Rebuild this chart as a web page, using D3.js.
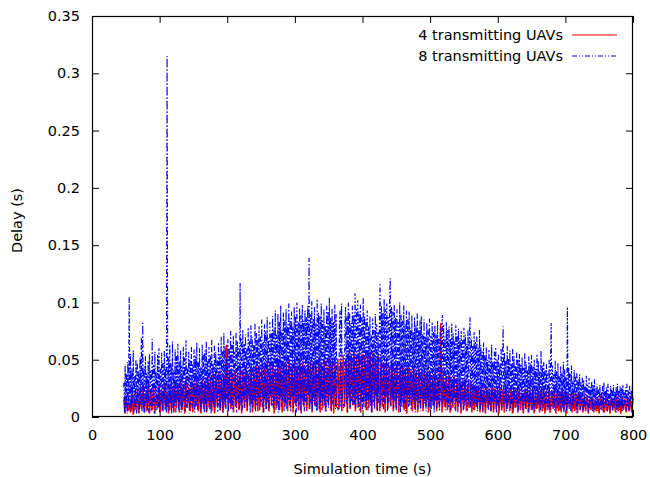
<!DOCTYPE html>
<html><head><meta charset="utf-8">
<script src="https://cdn.jsdelivr.net/npm/d3@7"></script>
<style>body{margin:0;background:#fff}</style>
</head><body><svg id="c" width="650" height="477"></svg>
<script>
const xTicks=[0,100,200,300,400,500,600,700,800];
const yTicks=[0,0.05,0.1,0.15,0.2,0.25,0.3,0.35];
const yTickLabels=["0","0.05","0.1","0.15","0.2","0.25","0.3","0.35"];
const seriesNames=["4 transmitting UAVs","8 transmitting UAVs"];
const xTitle="Simulation time (s)", yTitle="Delay (s)";
const tStart=47, tEnd=800;
// 4 transmitting UAVs: delay (s), samples evenly spaced from tStart to tEnd
const delay4=[
.015,.003,.018,.005,.012,.004,.020,.002,.016,.006,.024,.003,.019,.007,.026,.004,.021,.005,.028,.003,
.023,.006,.027,.003,.020,.008,.029,.004,.024,.005,.030,.007,.022,.003,.028,.006,.025,.004,.031,.008,
.027,.004,.033,.006,.029,.003,.035,.008,.026,.005,.032,.004,.030,.009,.034,.005,.028,.003,.033,.007,
.031,.004,.036,.008,.033,.005,.038,.003,.035,.009,.040,.006,.034,.004,.037,.008,.063,.005,.039,.007,
.036,.004,.041,.009,.038,.006,.043,.003,.040,.008,.044,.005,.037,.010,.042,.004,.039,.007,.044,.005,
.041,.009,.046,.004,.043,.007,.049,.005,.045,.010,.047,.003,.042,.008,.050,.006,.044,.004,.048,.009,
.046,.005,.050,.008,.043,.004,.048,.010,.045,.006,.051,.003,.047,.009,.044,.005,.049,.007,.046,.004,
.048,.010,.045,.006,.051,.004,.047,.008,.050,.005,.044,.011,.052,.006,.049,.003,.046,.008,.051,.007,
.049,.005,.054,.009,.051,.004,.056,.007,.053,.010,.057,.005,.052,.008,.058,.004,.055,.009,.053,.006,
.057,.008,.054,.004,.058,.010,.052,.006,.055,.005,.049,.009,.046,.004,.048,.007,.044,.010,.047,.005,
.043,.008,.046,.004,.042,.009,.045,.006,.041,.003,.044,.010,.040,.005,.043,.007,.039,.004,.042,.008,
.038,.005,.041,.009,.037,.004,.040,.007,.036,.010,.039,.005,.035,.008,.082,.004,.038,.009,.034,.006,
.036,.004,.033,.008,.035,.005,.031,.009,.034,.003,.030,.007,.033,.005,.029,.008,.032,.004,.028,.006,
.027,.009,.025,.004,.028,.006,.024,.003,.026,.008,.023,.005,.027,.004,.025,.007,.022,.003,.026,.006,
.024,.004,.027,.007,.023,.005,.026,.003,.025,.008,.022,.004,.026,.006,.021,.003,.024,.007,.025,.004,
.022,.006,.025,.003,.020,.007,.024,.004,.023,.005,.026,.003,.021,.006,.024,.004,.022,.007,.025,.003,
.023,.005,.020,.004,.024,.006,.021,.003,.022,.007,.019,.004,.023,.005,.020,.003,.022,.006,.018,.004,
.017,.005,.019,.003,.016,.006,.018,.004,.015,.005,.017,.003,.019,.006,.016,.004,.018,.005,.015,.003,
.017,.006,.016,.004,.018,.005,.015,.003,.017,.006,.016,.004,.018,.005,.015,.004,.017];
// 8 transmitting UAVs: delay (s), samples evenly spaced from tStart to tEnd
const delay8=[
.030,.004,.045,.008,.038,.003,.048,.010,.105,.006,.055,.005,.042,.012,.058,.004,.036,.009,.050,.003,
.047,.007,.040,.004,.052,.011,.070,.005,.082,.008,.044,.003,.053,.012,.038,.006,.049,.004,.055,.010,
.041,.005,.068,.009,.046,.003,.057,.012,.039,.006,.054,.008,.060,.004,.043,.011,.056,.005,.048,.013,
.058,.006,.044,.004,.315,.009,.052,.005,.063,.012,.047,.003,.066,.008,.041,.010,.059,.004,.053,.015,
.064,.006,.049,.011,.058,.004,.045,.009,.061,.014,.052,.005,.067,.008,.043,.012,.057,.003,.050,.010,
.062,.007,.046,.013,.059,.004,.053,.010,.065,.006,.048,.015,.060,.005,.044,.009,.063,.012,.055,.004,
.058,.011,.066,.005,.049,.014,.061,.007,.054,.003,.068,.012,.047,.009,.063,.006,.057,.016,.050,.004,
.065,.010,.055,.006,.070,.013,.058,.004,.073,.011,.062,.007,.052,.015,.068,.005,.060,.012,.075,.008,
.063,.006,.071,.014,.057,.009,.074,.004,.066,.012,.061,.007,.117,.010,.069,.005,.076,.015,.064,.008,
.072,.012,.060,.006,.078,.016,.067,.004,.080,.011,.070,.008,.063,.014,.082,.005,.074,.010,.068,.017,
.079,.006,.071,.013,.085,.009,.066,.004,.081,.015,.075,.007,.087,.012,.069,.005,.083,.018,.073,.010,
.088,.008,.078,.014,.093,.006,.072,.011,.090,.004,.083,.016,.097,.009,.076,.013,.091,.005,.085,.012,
.094,.007,.081,.015,.099,.010,.086,.005,.092,.018,.079,.008,.096,.012,.088,.004,.100,.014,.083,.009,
.095,.006,.089,.016,.098,.011,.084,.005,.093,.013,.087,.008,.097,.019,.139,.007,.090,.012,.101,.006,
.086,.014,.096,.009,.082,.005,.103,.017,.091,.007,.088,.012,.099,.006,.085,.015,.094,.010,.080,.004,
.097,.013,.092,.008,.104,.016,.087,.005,.095,.011,.083,.018,.098,.007,.090,.014,.009,.006,.011,.086,
.093,.009,.099,.015,.012,.008,.010,.082,.096,.012,.088,.004,.100,.017,.091,.008,.082,.013,.097,.010,
.089,.011,.108,.007,.095,.016,.102,.009,.092,.005,.098,.013,.087,.006,.104,.014,.090,.008,.085,.012,
.093,.006,.079,.015,.088,.010,.072,.004,.086,.013,.076,.007,.090,.016,.081,.005,.074,.012,.084,.117,
.008,.097,.014,.091,.006,.103,.011,.094,.017,.099,.005,.088,.012,.101,.121,.009,.096,.015,.092,.007,
.098,.013,.087,.006,.094,.016,.083,.010,.100,.004,.090,.014,.085,.008,.097,.012,.081,.005,.093,.017,
.086,.009,.092,.013,.078,.006,.089,.015,.074,.011,.087,.004,.080,.014,.091,.007,.076,.012,.084,.005,
.088,.016,.073,.008,.085,.012,.070,.005,.082,.015,.077,.009,.086,.006,.071,.013,.083,.010,.075,.004,
.080,.014,.072,.007,.084,.011,.069,.005,.078,.013,.074,.089,.009,.081,.015,.070,.006,.083,.012,.076,
.008,.079,.014,.068,.005,.082,.011,.073,.016,.066,.007,.080,.013,.071,.004,.077,.012,.069,.009,.075,
.015,.067,.006,.078,.010,.072,.013,.064,.005,.076,.011,.068,.087,.008,.070,.014,.062,.006,.074,.012,
.066,.009,.071,.005,.060,.013,.076,.007,.063,.011,.058,.004,.065,.012,.054,.008,.061,.014,.050,.006,
.059,.010,.052,.005,.063,.012,.048,.007,.057,.014,.061,.004,.050,.011,.055,.008,.046,.013,.060,.006,
.053,.079,.009,.056,.012,.049,.005,.062,.010,.051,.014,.058,.007,.047,.011,.060,.004,.053,.013,.045,
.008,.057,.012,.050,.005,.055,.010,.046,.014,.052,.006,.043,.011,.056,.007,.048,.013,.041,.004,.053,
.009,.047,.012,.054,.006,.044,.010,.050,.005,.042,.013,.055,.008,.049,.011,.040,.006,.058,.012,.045,
.007,.048,.010,.041,.005,.046,.012,.038,.008,.050,.004,.043,.082,.009,.045,.011,.037,.006,.049,.013,
.040,.007,.047,.010,.036,.005,.044,.012,.039,.008,.048,.004,.042,.011,.035,.006,.096,.009,.043,.012,
.038,.005,.045,.010,.032,.007,.041,.013,.036,.004,.039,.009,.033,.011,.037,.006,.030,.010,.035,.005,
.032,.009,.027,.006,.036,.011,.029,.004,.034,.008,.026,.012,.031,.005,.028,.009,.033,.006,.025,.010,
.029,.005,.024,.009,.028,.006,.022,.010,.027,.004,.030,.008,.023,.011,.026,.005,.029,.009,.021,.006,
.027,.010,.024,.005,.028,.008,.022,.011,.026,.004,.029,.009,.023,.006,.027,.010,.025,.005,.028,.008,
.022,.011,.026,.006,.029,.009,.024,.005,.027,.010,.023,.007,.028,.012];

const FONT='"DejaVu Sans", sans-serif', FS=14.5;
const L=92,R=633,T=16,B=417;
const svg=d3.select("#c");
const x=d3.scaleLinear().domain([0,800]).range([L,R]);
const y=d3.scaleLinear().domain([0,0.35]).range([B,T]);

function styleAxis(g){
  g.attr("font-family",FONT).attr("font-size",FS);
  g.select(".domain").remove();
  g.selectAll(".tick line").attr("stroke","#000").attr("stroke-width",1);
  g.selectAll(".tick text").attr("fill","#000");
}
svg.append("g").attr("transform",`translate(0,${B})`)
  .call(d3.axisBottom(x).tickValues(xTicks).tickFormat(d3.format("d")).tickSizeInner(-7).tickSizeOuter(0).tickPadding(13))
  .call(styleAxis);
svg.append("g").attr("transform",`translate(0,${T})`)
  .call(d3.axisTop(x).tickValues(xTicks).tickFormat("").tickSizeInner(-7).tickSizeOuter(0))
  .call(styleAxis);
svg.append("g").attr("transform",`translate(${L},0)`)
  .call(d3.axisLeft(y).tickValues(yTicks).tickFormat((d,i)=>yTickLabels[i]).tickSizeInner(-7).tickSizeOuter(0).tickPadding(12))
  .call(styleAxis);
svg.append("g").attr("transform",`translate(${R},0)`)
  .call(d3.axisRight(y).tickValues(yTicks).tickFormat("").tickSizeInner(-7).tickSizeOuter(0))
  .call(styleAxis);

function tAt(i,n){return tStart+i*(tEnd-tStart)/(n-1);}
const line=d3.line().x((d,i,arr)=>x(tAt(i,arr.length))).y(d=>y(d));

svg.append("path").datum(delay4).attr("d",line)
  .attr("fill","none").attr("stroke","#ff0000").attr("stroke-width",1.5);
svg.append("path").datum(delay8).attr("d",line)
  .attr("fill","none").attr("stroke","#0000ff").attr("stroke-width",1.15)
  .attr("stroke-dasharray","5,2,1.5,2,1.5,2");

svg.append("rect").attr("x",L+0.5).attr("y",T+0.5).attr("width",R-L-1).attr("height",B-T-1)
  .attr("fill","none").attr("stroke","#000").attr("stroke-width",1.2);

svg.append("text").attr("x",(L+R)/2).attr("y",474).attr("text-anchor","middle")
  .attr("font-family",FONT).attr("font-size",FS).text(xTitle);
svg.append("text").attr("transform",`translate(22,${(T+B)/2+4}) rotate(-90)`).attr("text-anchor","middle")
  .attr("font-family",FONT).attr("font-size",FS).text(yTitle);

const legY=[35,56], legColors=["#ff0000","#0000ff"], legDash=[null,"5,2,1,2,1,2"];
seriesNames.forEach((s,i)=>{
  svg.append("text").attr("x",563).attr("y",legY[i]).attr("dy","0.35em").attr("text-anchor","end")
    .attr("font-family",FONT).attr("font-size",FS).text(s);
  svg.append("line").attr("x1",572).attr("x2",617).attr("y1",legY[i]).attr("y2",legY[i])
    .attr("stroke",legColors[i]).attr("stroke-width",1).attr("stroke-dasharray",legDash[i]);
});
</script></body></html>
